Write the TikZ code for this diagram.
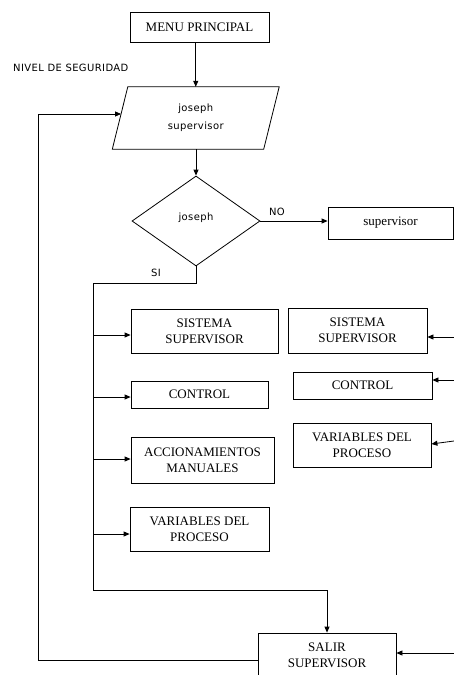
\documentclass[tikz,border=0pt]{standalone}
\usepackage{fontspec}
\setmainfont{Liberation Serif}
\newfontfamily\labelsans[LetterSpace=4]{DejaVu Sans}
\usetikzlibrary{arrows.meta,shapes.geometric}

\begin{document}
\begin{tikzpicture}[x=1pt,y=-1pt,
  box/.style={draw, line width=0.8pt, inner sep=0pt, align=center,
    font=\fontsize{13}{16}\selectfont},
  line/.style={line width=0.8pt},
  link/.style={line width=0.8pt, -{Triangle[length=6pt,width=5pt]}},
  tag/.style={inner sep=0pt, align=center, font=\labelsans\fontsize{10}{18}\selectfont}]

\fill[white] (0,0) rectangle (454,675);
\useasboundingbox (0,0) rectangle (454,675);

% header and security level input
\node[box, minimum width=139pt, minimum height=30pt] (menu) at (199.5,27) {MENU PRINCIPAL};
\node[tag, anchor=west] (nivel) at (13,68) {NIVEL DE SEGURIDAD};
\node[tag, minimum width=151pt, minimum height=62pt] (par) at (195.75,118) {joseph\\supervisor};
\draw[line] ([xshift=7.75pt]par.north west) -- ([xshift=7.75pt]par.north east)
  -- ([xshift=-7.75pt]par.south east) -- ([xshift=-7.75pt]par.south west) -- cycle;

% decision
\node[diamond, draw, line width=0.8pt, inner sep=0pt, minimum width=128pt,
  minimum height=90pt, font=\labelsans\fontsize{10}{12}\selectfont] (dia) at (196,221) {\raisebox{8pt}{joseph}};
\node[box, minimum width=125pt, minimum height=32pt] (sup) at (390.5,223) {supervisor};
\node[tag] (no) at (277,212) {NO};
\node[tag] (si) at (156,273) {SI};

% left column
\node[box, minimum width=147pt, minimum height=44pt] (ss1) at (204.5,331) {SISTEMA\\SUPERVISOR};
\node[box, minimum width=137pt, minimum height=27pt] (ctl1) at (199.5,394.5) {CONTROL};
\node[box, minimum width=143pt, minimum height=46pt] (acc) at (202.5,460) {ACCIONAMIENTOS\\MANUALES};
\node[box, minimum width=139pt, minimum height=44pt] (var1) at (199.5,529) {VARIABLES DEL\\PROCESO};

% right column
\node[box, minimum width=139pt, minimum height=45pt] (ss2) at (357.5,330.5) {SISTEMA\\SUPERVISOR};
\node[box, minimum width=139pt, minimum height=27pt] (ctl2) at (362.5,385.5) {CONTROL};
\node[box, minimum width=138pt, minimum height=44pt] (var2) at (362,445) {VARIABLES DEL\\PROCESO};

% exit
\node[box, minimum width=138pt, minimum height=44pt] (salir) at (327,655) {SALIR\\SUPERVISOR};

% main flow
\draw[link] (menu.south -| par.north) -- (par.north);
\draw[link] (par.south -| dia.north) -- (dia.north);
\draw[link] (dia.east) -- (dia.east -| sup.west);

% SI bus
\coordinate (bus) at (93,283);
\coordinate (busend) at (93,590);
\draw[link] (dia.south) |- (bus) -- (busend) -| (salir.north);
\coordinate (in1) at ([yshift=-4pt]ss1.west);
\coordinate (in2) at ([yshift=-2.5pt]ctl1.west);
\coordinate (in3) at ([yshift=1pt]acc.west);
\coordinate (in4) at ([yshift=-5pt]var1.west);
\draw[link] (bus |- in1) -- (in1);
\draw[link] (bus |- in2) -- (in2);
\draw[link] (bus |- in3) -- (in3);
\draw[link] (bus |- in4) -- (in4);

% arrows coming in from the right margin
\coordinate (r1) at (454,337);
\coordinate (r2) at (454,380);
\coordinate (r3) at (454,441);
\coordinate (r4) at (454,653);
\draw[link] (r1) -- (r1 -| ss2.east);
\draw[link] (r2) -- (r2 -| ctl2.east);
\draw[link] (r3) -- ([yshift=1pt]var2.east);
\draw[link] (r4) -- (r4 -| salir.east);

% loop back to the security level input
\coordinate (back) at (38,114);
\coordinate (parin) at ([xshift=1pt,yshift=4pt]par.west);
\draw[link] ([yshift=-5pt]salir.west) -| (back |- parin) -- (parin);
\end{tikzpicture}
\end{document}
